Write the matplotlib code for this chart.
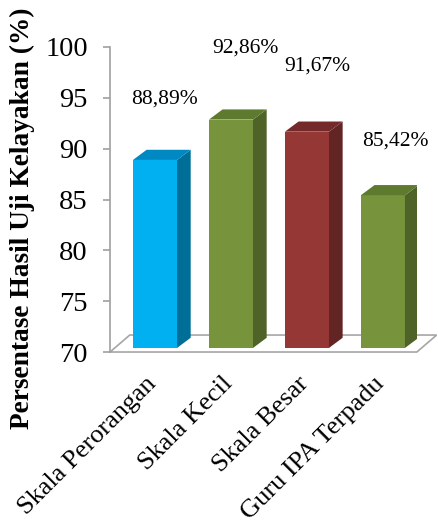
import numpy as np
import matplotlib
matplotlib.use('Agg')
import matplotlib.pyplot as plt
from matplotlib.patches import Polygon

##### dados
kategori = ['Skala Perorangan', 'Skala Kecil', 'Skala Besar', 'Guru IPA Terpadu']
nilai = [88.89, 92.86, 91.67, 85.42]
label_nilai = ['88,89%', '92,86%', '91,67%', '85,42%']

# cores: frente, lado, topo
cor_frente = ['#00B0F0', '#77933C', '#953735', '#77933C']
cor_lado = ['#006F98', '#4F6228', '#632523', '#4F6228']
cor_topo = ['#0088C2', '#5E7A2E', '#74292A', '#5E7A2E']

# deslocamento dos rotulos (x em categorias, y em %)
desl_x = [0.12, 0.19, 0.14, 0.16]
desl_y = [6.0, 7.0, 6.5, 5.3]

plt.rcParams['font.family'] = ['Liberation Serif', 'DejaVu Serif']

fig = plt.figure(figsize=(4.39, 5.25), dpi=100)
ax = fig.add_axes([0.2506, 0.3295, 0.699, 0.581])

x = np.arange(len(kategori))
larg = 0.58
base = 70.4
dx, dy = 0.18, 1.0          # profundidade das barras
dxf, dyf = 0.26, 1.67       # profundidade do piso
xmin, xmax = -0.592, 3.447

ax.set_xlim(xmin, xmax)
ax.set_ylim(70, 100)

# piso
piso = Polygon([(xmin, 70), (xmin + dxf, 70 + dyf), (xmax + dxf, 70 + dyf), (xmax, 70)],
               closed=True, facecolor='white', edgecolor='#A6A6A6', lw=1.2,
               clip_on=False, zorder=1)
ax.add_patch(piso)

for i, v in enumerate(nilai):
    x0 = x[i] - larg / 2
    x1 = x[i] + larg / 2
    ax.bar(x[i], v - base, bottom=base, width=larg, color=cor_frente[i], zorder=3)
    lado = Polygon([(x1, base), (x1 + dx, base + dy), (x1 + dx, v + dy), (x1, v)],
                   closed=True, facecolor=cor_lado[i], edgecolor='none', zorder=3)
    topo = Polygon([(x0, v), (x0 + dx, v + dy), (x1 + dx, v + dy), (x1, v)],
                   closed=True, facecolor=cor_topo[i], edgecolor='none', zorder=3)
    ax.add_patch(lado)
    ax.add_patch(topo)
    ax.text(x[i] + desl_x[i], v + desl_y[i], label_nilai[i], ha='center', va='center', fontsize=15.5)

ax.set_yticks(range(70, 101, 5))
ax.tick_params(axis='y', labelsize=20.5, color='#A0A0A0', length=5, width=1.2, pad=11)
ax.set_xticks(x - 0.13)
ax.set_xticklabels(kategori, rotation=45, ha='right', rotation_mode='anchor', fontsize=19)
ax.tick_params(axis='x', length=0, pad=15)

for s in ['top', 'right', 'bottom']:
    ax.spines[s].set_visible(False)
ax.spines['left'].set_color('#A0A0A0')
ax.spines['left'].set_linewidth(1.2)

fig.text(0.052, 0.585, 'Persentase Hasil Uji Kelayakan (%)', rotation=90, ha='center', va='center',
         fontsize=19.7, fontweight='bold')

plt.savefig('out.png', dpi=100)
